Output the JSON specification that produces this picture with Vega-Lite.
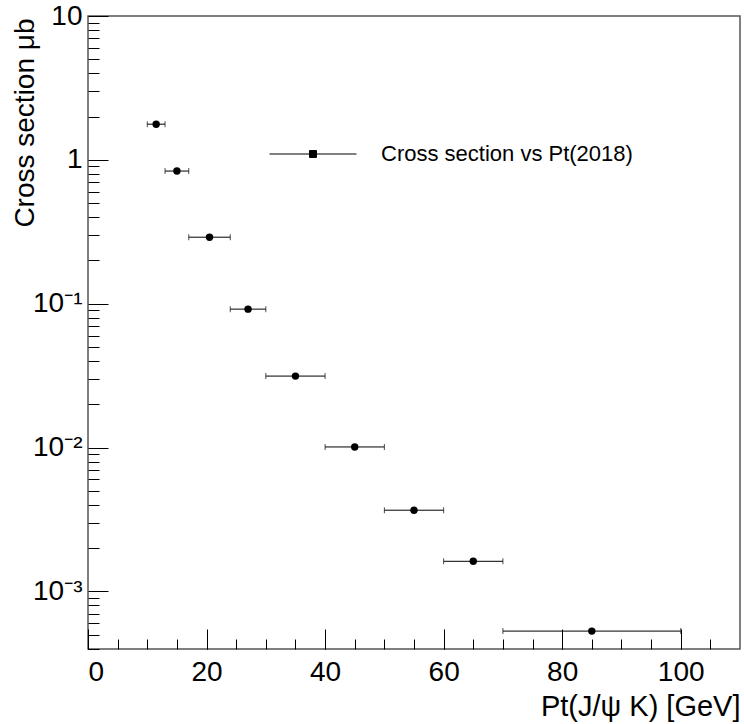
{
  "$schema": "https://vega.github.io/schema/vega-lite/v6.json",
  "width": 652,
  "height": 633,
  "autosize": {"type": "none"},
  "padding": {"left": 88, "top": 16, "right": 4, "bottom": 75},
  "background": "white",
  "config": {
    "view": {"stroke": "#555", "strokeWidth": 1.5},
    "font": "Liberation Sans",
    "axis": {"grid": false, "domain": false, "tickColor": "#000", "labelColor": "#000", "titleColor": "#000", "labelFont": "Liberation Sans", "titleFont": "Liberation Sans", "titleFontWeight": "normal"}
  },
  "data": {
    "values": [
      {"pt": 11.5, "lo": 10, "hi": 13, "xs": 1.77, "s": "Cross section vs Pt(2018)"},
      {"pt": 15, "lo": 13, "hi": 17, "xs": 0.836, "s": "Cross section vs Pt(2018)"},
      {"pt": 20.5, "lo": 17, "hi": 24, "xs": 0.29, "s": "Cross section vs Pt(2018)"},
      {"pt": 27, "lo": 24, "hi": 30, "xs": 0.0917, "s": "Cross section vs Pt(2018)"},
      {"pt": 35, "lo": 30, "hi": 40, "xs": 0.0314, "s": "Cross section vs Pt(2018)"},
      {"pt": 45, "lo": 40, "hi": 50, "xs": 0.0101, "s": "Cross section vs Pt(2018)"},
      {"pt": 55, "lo": 50, "hi": 60, "xs": 0.00367, "s": "Cross section vs Pt(2018)"},
      {"pt": 65, "lo": 60, "hi": 70, "xs": 0.00162, "s": "Cross section vs Pt(2018)"},
      {"pt": 85, "lo": 70, "hi": 100, "xs": 0.00053, "s": "Cross section vs Pt(2018)"}
    ]
  },
  "layer": [
    {
      "mark": {"type": "rule", "color": "#000", "strokeWidth": 1},
      "encoding": {
        "x": {"field": "lo", "type": "quantitative", "scale": {"domain": [0, 110], "nice": false, "zero": false},
              "axis": {"orient": "bottom", "values": [0,5,10,15,20,25,30,35,40,45,50,55,60,65,70,75,80,85,90,95,100,105], "labels": false, "tickSize": -10, "title": null}},
        "x2": {"field": "hi"},
        "y": {"field": "xs", "type": "quantitative", "scale": {"type": "log", "domain": [0.000398, 10], "nice": false},
              "axis": {"orient": "left", "values": [0.0004,0.0005,0.0006,0.0007,0.0008,0.0009,0.002,0.003,0.004,0.005,0.006,0.007,0.008,0.009,0.02,0.03,0.04,0.05,0.06,0.07,0.08,0.09,0.2,0.3,0.4,0.5,0.6,0.7,0.8,0.9,2,3,4,5,6,7,8,9], "labels": false, "tickSize": -11, "title": null}}
      }
    },
    {
      "mark": {"type": "tick", "orient": "vertical", "color": "#000", "size": 6, "thickness": 1},
      "encoding": {
        "x": {"field": "lo", "type": "quantitative", "axis": null},
        "y": {"field": "xs", "type": "quantitative", "axis": null}
      }
    },
    {
      "mark": {"type": "tick", "orient": "vertical", "color": "#000", "size": 6, "thickness": 1},
      "encoding": {
        "x": {"field": "hi", "type": "quantitative", "axis": null},
        "y": {"field": "xs", "type": "quantitative", "axis": null}
      }
    },
    {
      "mark": {"type": "point", "filled": true, "shape": "circle", "size": 55, "opacity": 1},
      "encoding": {
        "x": {"field": "pt", "type": "quantitative",
              "axis": {"orient": "bottom", "values": [0,20,40,60,80,100], "tickSize": -20, "labelPadding": 29, "labelFontSize": 28, "labelBaseline": "top",
                       "title": "Pt(J/ψ K) [GeV]", "titleFontSize": 29, "titleX": 652, "titleY": 66, "titleAlign": "right", "titleBaseline": "alphabetic"}},
        "y": {"field": "xs", "type": "quantitative",
              "axis": {"orient": "left", "values": [0.001, 0.01, 0.1, 1, 10], "tickSize": -20, "labelPadding": 26, "labelFontSize": 28, "labelBaseline": "middle",
                       "labelExpr": "datum.value >= 5 ? '10' : datum.value >= 0.5 ? '1' : datum.value >= 0.05 ? '10⁻¹' : datum.value >= 0.005 ? '10⁻²' : '10⁻³'",
                       "title": "Cross section μb", "titleFontSize": 28, "titleAngle": -90, "titleX": -55, "titleY": 2, "titleAlign": "right", "titleBaseline": "alphabetic"}},
        "color": {"field": "s", "type": "nominal", "scale": {"range": ["#000"]},
                  "legend": {"orient": "none", "legendX": 181, "legendY": 94, "title": null, "padding": 0,
                             "symbolType": "M-1,0L1,0M-0.08,-0.08L0.08,-0.08L0.08,0.08L-0.08,0.08Z", "symbolSize": 7569,
                             "symbolStrokeColor": "#000", "symbolStrokeWidth": 1, "symbolFillColor": "#000",
                             "labelFontSize": 22, "labelFont": "Liberation Sans", "labelColor": "#000", "labelOffset": 24, "labelLimit": 400}}
      }
    }
  ],
  "resolve": {"axis": {"x": "independent", "y": "independent"}}
}
